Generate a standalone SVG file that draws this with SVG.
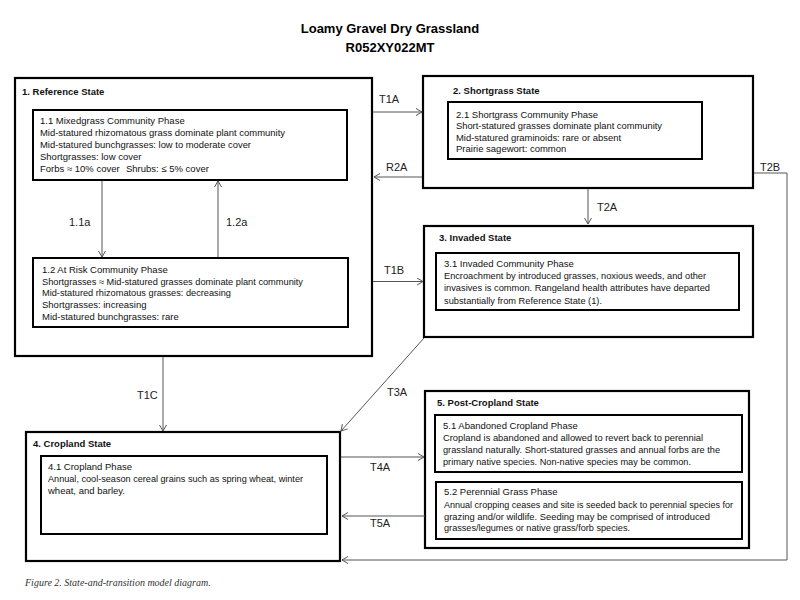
<svg xmlns="http://www.w3.org/2000/svg" width="800" height="600" viewBox="0 0 800 600">
<style>
.box{fill:#fff;stroke:#000;stroke-width:2.2}
.ibox{fill:#fff;stroke:#000;stroke-width:2}
.hd{font-family:"Liberation Sans",Arial,sans-serif;font-weight:bold;font-size:9.5px;fill:#111}
.tx{font-family:"Liberation Sans",Arial,sans-serif;font-size:9.5px;fill:#111}
.lb{font-family:"Liberation Sans",Arial,sans-serif;font-size:11px;fill:#222}
.ttl{font-family:"Liberation Sans",Arial,sans-serif;font-weight:bold;font-size:13px;fill:#000}
.cap{font-family:"Liberation Serif","Times New Roman",serif;font-style:italic;font-size:10px;fill:#333}
.cn{fill:none;stroke:#555;stroke-width:1}
</style>
<defs>
<marker id="ah" markerUnits="userSpaceOnUse" markerWidth="10" markerHeight="10" refX="7" refY="4" orient="auto">
<path d="M1,0.5 L7,4 L1,7.5" fill="none" stroke="#555" stroke-width="1"/>
</marker>
</defs>
<rect width="800" height="600" fill="#fff"/>
<g id="title">
<text class="ttl" x="390" y="33" text-anchor="middle">Loamy Gravel Dry Grassland</text>
<text class="ttl" x="390" y="52" text-anchor="middle">R052XY022MT</text>
</g>
<g id="state1">
<rect class="box" x="15" y="78" width="357" height="278"/>
<text class="hd" x="22" y="94.5">1. Reference State</text>
</g>
<g id="phase11">
<rect class="ibox" x="33" y="110" width="314" height="70"/>
<text class="tx" x="40" y="124">1.1 Mixedgrass Community Phase</text>
<text class="tx" x="40" y="136" textLength="245" lengthAdjust="spacingAndGlyphs">Mid-statured rhizomatous grass dominate plant community</text>
<text class="tx" x="40" y="148" textLength="211" lengthAdjust="spacingAndGlyphs">Mid-statured bunchgrasses: low to moderate cover</text>
<text class="tx" x="40" y="160">Shortgrasses: low cover</text>
<text class="tx" x="40" y="172">Forbs ≈ 10% cover</text>
<text class="tx" x="126" y="172">Shrubs: ≤ 5% cover</text>
</g>
<g id="phase12">
<rect class="ibox" x="33" y="258" width="315" height="69"/>
<text class="tx" x="42" y="273">1.2  At Risk Community Phase</text>
<text class="tx" x="42" y="284.5" textLength="261" lengthAdjust="spacingAndGlyphs">Shortgrasses ≈ Mid-statured grasses dominate plant community</text>
<text class="tx" x="42" y="296" textLength="189" lengthAdjust="spacingAndGlyphs">Mid-statured rhizomatous grasses: decreasing</text>
<text class="tx" x="42" y="308">Shortgrasses: increasing</text>
<text class="tx" x="42" y="320">Mid-statured bunchgrasses: rare</text>
</g>
<g id="state2">
<rect class="box" x="423" y="76" width="330" height="112"/>
<text class="hd" x="453" y="93.5">2. Shortgrass State</text>
</g>
<g id="phase21">
<rect class="ibox" x="448" y="102" width="254" height="57"/>
<text class="tx" x="456" y="118">2.1 Shortgrass Community Phase</text>
<text class="tx" x="456" y="129" textLength="206" lengthAdjust="spacingAndGlyphs">Short-statured grasses dominate plant community</text>
<text class="tx" x="456" y="140.5" textLength="165" lengthAdjust="spacingAndGlyphs">Mid-statured graminoids: rare or absent</text>
<text class="tx" x="456" y="152">Prairie sagewort: common</text>
</g>
<g id="state3">
<rect class="box" x="424" y="226" width="329" height="111"/>
<text class="hd" x="439" y="240.5">3. Invaded  State</text>
</g>
<g id="phase31">
<rect class="ibox" x="436" y="253" width="303" height="57"/>
<text class="tx" x="444" y="267">3.1  Invaded Community Phase</text>
<text class="tx" x="444" y="279" textLength="262" lengthAdjust="spacingAndGlyphs">Encroachment by introduced grasses, noxious weeds, and other</text>
<text class="tx" x="444" y="291" textLength="266" lengthAdjust="spacingAndGlyphs">invasives is common. Rangeland health attributes have departed</text>
<text class="tx" x="444" y="303.5" textLength="158" lengthAdjust="spacingAndGlyphs">substantially from Reference State (1).</text>
</g>
<g id="state4">
<rect class="box" x="26" y="432" width="314" height="129"/>
<text class="hd" x="33" y="446.5">4. Cropland State</text>
</g>
<g id="phase41">
<rect class="ibox" x="41" y="456" width="286" height="78"/>
<text class="tx" x="48" y="469.5">4.1 Cropland Phase</text>
<text class="tx" x="48" y="482" textLength="255" lengthAdjust="spacingAndGlyphs">Annual, cool-season cereal grains such as spring wheat, winter</text>
<text class="tx" x="48" y="493.5" textLength="77" lengthAdjust="spacingAndGlyphs">wheat, and barley.</text>
</g>
<g id="state5">
<rect class="box" x="425" y="391" width="324" height="157"/>
<text class="hd" x="437" y="405.5">5. Post-Cropland  State</text>
</g>
<g id="phase51">
<rect class="ibox" x="435" y="415" width="307" height="57"/>
<text class="tx" x="443" y="428.5">5.1 Abandoned Cropland Phase</text>
<text class="tx" x="443" y="441" textLength="260" lengthAdjust="spacingAndGlyphs">Cropland is abandoned and allowed to revert back to perennial</text>
<text class="tx" x="443" y="453" textLength="277" lengthAdjust="spacingAndGlyphs">grassland naturally. Short-statured grasses and annual forbs are the</text>
<text class="tx" x="443" y="464.5" textLength="248" lengthAdjust="spacingAndGlyphs">primary native species. Non-native species may be common.</text>
</g>
<g id="phase52">
<rect class="ibox" x="436" y="482" width="306" height="57"/>
<text class="tx" x="444" y="494.5">5.2 Perennial Grass Phase</text>
<text class="tx" x="444" y="507.5" textLength="289" lengthAdjust="spacingAndGlyphs">Annual cropping ceases and site is seeded back to perennial species for</text>
<text class="tx" x="444" y="519.5" textLength="266" lengthAdjust="spacingAndGlyphs">grazing and/or wildlife. Seeding may be comprised of introduced</text>
<text class="tx" x="444" y="531" textLength="186" lengthAdjust="spacingAndGlyphs">grasses/legumes or native grass/forb species.</text>
</g>
<g id="connectors">
<line class="cn" x1="102" y1="181" x2="102" y2="257" marker-end="url(#ah)"/>
<line class="cn" x1="218" y1="257" x2="218" y2="181" marker-end="url(#ah)"/>
<line class="cn" x1="373" y1="112" x2="422" y2="112" marker-end="url(#ah)"/>
<line class="cn" x1="422" y1="177" x2="374" y2="177" marker-end="url(#ah)"/>
<line class="cn" x1="588" y1="189" x2="588" y2="224" marker-end="url(#ah)"/>
<polyline class="cn" points="754,173 787,173 787,560 342,560" marker-end="url(#ah)"/>
<line class="cn" x1="373" y1="281.5" x2="423" y2="281.5" marker-end="url(#ah)"/>
<line class="cn" x1="163" y1="357" x2="163" y2="431" marker-end="url(#ah)"/>
<line class="cn" x1="424" y1="338" x2="341" y2="431" marker-end="url(#ah)"/>
<line class="cn" x1="341" y1="457" x2="424" y2="457" marker-end="url(#ah)"/>
<line class="cn" x1="425" y1="516" x2="342" y2="516" marker-end="url(#ah)"/>
<text class="lb" x="69" y="226">1.1a</text>
<text class="lb" x="226" y="226">1.2a</text>
<text class="lb" x="379" y="103">T1A</text>
<text class="lb" x="386" y="171">R2A</text>
<text class="lb" x="760" y="171">T2B</text>
<text class="lb" x="597" y="211">T2A</text>
<text class="lb" x="384" y="274">T1B</text>
<text class="lb" x="137" y="399">T1C</text>
<text class="lb" x="387" y="396">T3A</text>
<text class="lb" x="370" y="471">T4A</text>
<text class="lb" x="370" y="527">T5A</text>
</g>
<text class="cap" x="25" y="586">Figure 2. State-and-transition model diagram.</text>
</svg>
